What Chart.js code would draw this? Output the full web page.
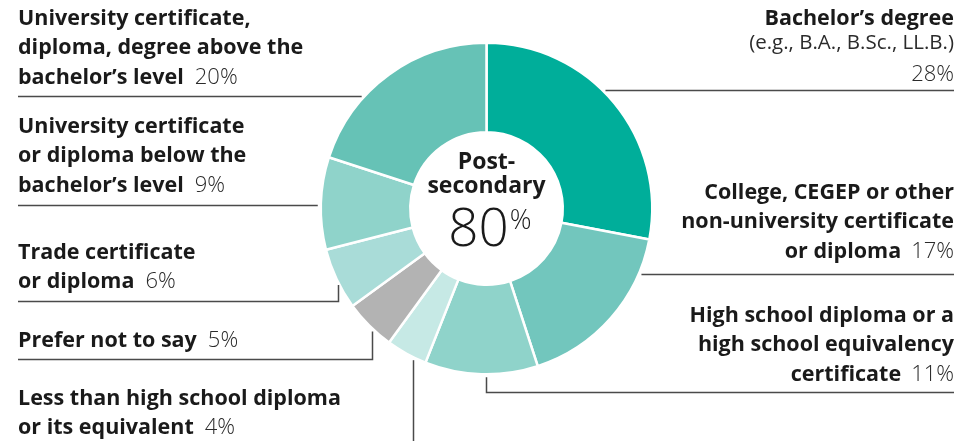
<!DOCTYPE html>
<html>
<head>
<meta charset="utf-8">
<script src="https://cdn.jsdelivr.net/npm/chart.js@4.4.1/dist/chart.umd.min.js"></script>
<style>
  html, body { margin: 0; padding: 0; background: #fff; }
  #wrap { width: 980px; height: 441px; position: relative; }
</style>
</head>
<body>
<div id="wrap"><canvas id="eduChart"></canvas></div>
<script>
// Highest level of education (share of respondents, %)
const categories = [
  'Bachelor\u2019s degree',
  'College, CEGEP or other non-university certificate or diploma',
  'High school diploma or a high school equivalency certificate',
  'Less than high school diploma or its equivalent',
  'Prefer not to say',
  'Trade certificate or diploma',
  'University certificate or diploma below the bachelor\u2019s level',
  'University certificate, diploma, degree above the bachelor\u2019s level'
];
const shares = [28, 17, 11, 4, 5, 6, 9, 20];
const isPostSecondary = [true, true, false, false, false, true, true, true];
const sliceColors = ['#00ae9a', '#72c6bd', '#8fd3ca', '#c6e9e5', '#b3b3b3', '#a9dcd8', '#8fd3ca', '#66c2b6'];

// wrapped label text, one entry per category
const labelLines = [
  ['Bachelor\u2019s degree'],
  ['College, CEGEP or other', 'non-university certificate', 'or diploma'],
  ['High school diploma or a', 'high school equivalency', 'certificate'],
  ['Less than high school diploma', 'or its equivalent'],
  ['Prefer not to say'],
  ['Trade certificate', 'or diploma'],
  ['University certificate', 'or diploma below the', 'bachelor\u2019s level'],
  ['University certificate,', 'diploma, degree above the', 'bachelor\u2019s level']
];
const labelNotes = ['(e.g., B.A., B.Sc., LL.B.)', null, null, null, null, null, null, null];
const centerTitle = ['Post-', 'secondary'];

// where each callout sits and how its leader line runs
const RIGHT_X = 954, LEFT_X = 18, LINE_H = 29.3;
const calloutLayout = [
  { side: 'right', y: 25, lead: { type: 'h', y: 90.5 } },
  { side: 'right', y: 199, lead: { type: 'h', y: 274.5 } },
  { side: 'right', y: 322, lead: { type: 'v', x: 486.5, to: 392.5 } },
  { side: 'left', y: 405, lead: { type: 'v', x: 413.5, to: 441 } },
  { side: 'left', y: 347, lead: { type: 'v', x: 372.5, to: 359.5 } },
  { side: 'left', y: 259, lead: { type: 'v', x: 338.5, to: 301.5 } },
  { side: 'left', y: 133, lead: { type: 'h', y: 205.5 } },
  { side: 'left', y: 25, lead: { type: 'h', y: 96.5 } }
];

const FONT = '"Open Sans", Lato, sans-serif';
const TEXT = '#1a1a1a';
const LIGHT_TEXT = '#2b2b2b';

const calloutPlugin = {
  id: 'callouts',
  afterDraw(chart) {
    const ctx = chart.ctx;
    const arc0 = chart.getDatasetMeta(0).data[0];
    const cx = arc0.x, cy = arc0.y, r = arc0.outerRadius - 1;
    const gap = 4;

    ctx.save();
    ctx.strokeStyle = '#4a4a4a';
    ctx.lineWidth = 1.5;
    ctx.textBaseline = 'alphabetic';

    calloutLayout.forEach((c, i) => {
      const L = c.lead;
      const endX = c.side === 'right' ? RIGHT_X : LEFT_X;
      ctx.beginPath();
      if (L.type === 'h') {
        const dx = Math.sqrt(Math.max(r * r - (L.y - cy) ** 2, 0)) + gap;
        ctx.moveTo(c.side === 'right' ? cx + dx : cx - dx, L.y);
        ctx.lineTo(endX, L.y);
      } else {
        const dy = Math.sqrt(Math.max(r * r - (L.x - cx) ** 2, 0)) + gap;
        ctx.moveTo(L.x, cy + dy);
        ctx.lineTo(L.x, L.to);
        if (L.to < chart.height) ctx.lineTo(endX, L.to);
      }
      ctx.stroke();

      // label text
      const lines = labelLines[i];
      const pct = shares[i] + '%';
      const boldFont = 'bold 21.5px ' + FONT;
      const lightFont = '300 22px ' + FONT;
      let y = c.y;
      const note = labelNotes[i];
      lines.forEach((txt, k) => {
        const last = k === lines.length - 1 && !note;
        ctx.font = lightFont;
        const pw = ctx.measureText(pct).width;
        ctx.font = boldFont;
        ctx.fillStyle = TEXT;
        if (c.side === 'right') {
          ctx.textAlign = 'right';
          ctx.fillText(txt, last ? RIGHT_X - pw - 10 : RIGHT_X, y);
          if (last) {
            ctx.font = lightFont;
            ctx.fillStyle = LIGHT_TEXT;
            ctx.fillText(pct, RIGHT_X, y);
          }
        } else {
          ctx.textAlign = 'left';
          ctx.fillText(txt, LEFT_X, y);
          if (last) {
            const w = ctx.measureText(txt).width;
            ctx.font = lightFont;
            ctx.fillStyle = LIGHT_TEXT;
            ctx.fillText(pct, LEFT_X + w + 11, y);
          }
        }
        y += LINE_H;
      });
      if (note) {
        ctx.textAlign = 'right';
        ctx.font = '400 20.5px ' + FONT;
        ctx.fillStyle = LIGHT_TEXT;
        ctx.fillText(note, RIGHT_X, c.y + 24);
        ctx.font = lightFont;
        ctx.fillText(pct, RIGHT_X, c.y + 56);
      }
    });

    // centre total
    const total = shares.reduce((s, v, i) => s + (isPostSecondary[i] ? v : 0), 0);
    ctx.textAlign = 'center';
    ctx.fillStyle = TEXT;
    ctx.font = 'bold 23px ' + FONT;
    ctx.fillText(centerTitle[0], cx, cy - 40);
    ctx.fillText(centerTitle[1], cx, cy - 16);
    ctx.font = '300 53px ' + FONT;
    const numW = ctx.measureText(String(total)).width;
    ctx.font = '300 27px ' + FONT;
    const pW = ctx.measureText('%').width;
    const startX = cx - (numW + pW) / 2 + 3;
    ctx.textAlign = 'left';
    ctx.font = '300 53px ' + FONT;
    ctx.fillText(String(total), startX, cy + 37);
    ctx.font = '300 27px ' + FONT;
    ctx.fillText('%', startX + numW + 1, cy + 20);
    ctx.restore();
  }
};

new Chart(document.getElementById('eduChart'), {
  type: 'doughnut',
  data: {
    labels: categories,
    datasets: [{
      data: shares,
      backgroundColor: sliceColors,
      borderColor: '#ffffff',
      borderWidth: 2.5,
      hoverOffset: 0,
      offset: 0
    }]
  },
  options: {
    responsive: true,
    maintainAspectRatio: false,
    animation: false,
    cutout: '46%',
    layout: { padding: { left: 319.5, right: 326.5, top: 41.5, bottom: 65.5 } },
    plugins: {
      legend: { display: false },
      tooltip: { enabled: false }
    }
  },
  plugins: [calloutPlugin]
});
</script>
</body>
</html>
